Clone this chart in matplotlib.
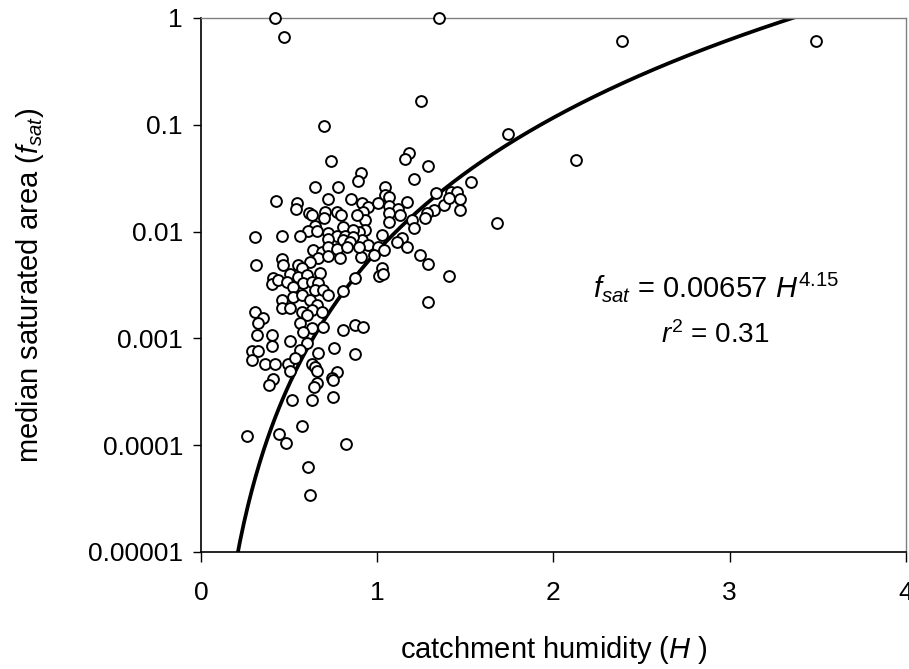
import numpy as np
import matplotlib
matplotlib.use("Agg")
import matplotlib.pyplot as plt
from matplotlib.ticker import FixedLocator, FixedFormatter, NullLocator

plt.rcParams['font.family'] = ['Liberation Sans', 'DejaVu Sans']
plt.rcParams['mathtext.fontset'] = 'custom'
plt.rcParams['mathtext.rm'] = 'Liberation Sans'
plt.rcParams['mathtext.it'] = 'Liberation Sans:italic'

# observed catchments: humidity H and median saturated area f_sat
H_obs = [0.42, 0.47, 1.35, 2.39, 3.49, 1.25, 0.70, 2.13, 1.74, 1.68, 0.74, 1.41, 1.29,
         1.18, 1.155, 1.29, 0.91, 0.89, 1.21, 1.045, 1.045, 1.064, 1.335, 1.42, 1.45,
         1.53, 1.47, 0.913, 0.95, 1.004, 1.064, 1.12, 1.169, 1.377, 1.405, 1.47, 0.922,
         1.064, 1.13, 1.32, 1.28, 1.27, 0.93, 1.064, 1.197, 0.928, 1.206, 1.027, 0.894,
         0.916, 1.14, 1.112, 0.95, 1.007, 1.169, 0.91, 0.979, 1.036, 1.244, 1.29, 1.027,
         0.646, 0.78, 0.424, 0.723, 0.85, 0.547, 0.54, 0.614, 0.632, 0.705, 0.70, 0.771,
         0.794, 0.888, 0.648, 0.61, 0.657, 0.808, 0.865, 0.307, 0.459, 0.5625, 0.723,
         0.771, 0.818, 0.865, 0.723, 0.808, 0.847, 0.638, 0.686, 0.723, 0.771, 0.828,
         0.894, 0.79, 0.666, 0.718, 0.459, 0.3125, 0.468, 0.553, 0.619,
         0.572, 0.676, 0.411, 0.506, 0.553, 0.60, 0.402, 0.439, 0.487, 0.581, 0.629,
         0.666, 0.524, 0.648, 0.695, 0.723, 0.875, 0.808, 0.524, 0.572, 0.619, 0.459,
         0.459, 0.506, 0.657, 0.629, 0.686, 0.572, 0.60, 0.307, 0.354, 0.326, 0.5625,
         0.629, 0.695, 0.581, 0.808, 0.875, 0.402, 0.316, 0.402, 0.506, 0.60, 0.288,
         0.326, 0.752, 0.5625, 0.666, 0.875, 0.288, 0.364, 0.42, 0.496, 0.534, 0.629,
         0.648, 0.657, 0.771, 0.743, 0.411, 0.506, 0.657,
         1.011, 1.03, 0.922,
         0.388, 0.644, 0.748, 0.515, 0.629, 0.748, 0.26, 0.445, 0.483, 0.572, 0.824,
         0.606, 0.619]
fsat_obs = [1.0, 0.66, 1.0, 0.61, 0.61, 0.167, 0.0975, 0.047, 0.0815, 0.012, 0.046, 0.00384, 0.00218,
            0.054, 0.048, 0.041, 0.035, 0.030, 0.031, 0.026, 0.022, 0.0212, 0.0231, 0.0236, 0.0236,
            0.029, 0.020, 0.0184, 0.0171, 0.0184, 0.0174, 0.0162, 0.0188, 0.0177, 0.0205, 0.0159, 0.0154,
            0.0148, 0.0143, 0.0159, 0.0148, 0.0133, 0.0128, 0.0124, 0.0128, 0.01035, 0.0107, 0.0093, 0.0100,
            0.0083, 0.0087, 0.0080, 0.0075, 0.0072, 0.0071, 0.0058, 0.0060, 0.0067, 0.0060, 0.0050, 0.00453,
            0.0263, 0.0263, 0.0194, 0.0201, 0.0201, 0.0187, 0.0162, 0.0150, 0.0142, 0.0154, 0.0133, 0.0154,
            0.0143, 0.0143, 0.0113, 0.0101, 0.0101, 0.011, 0.0103, 0.00885, 0.00916, 0.00916, 0.0096,
            0.0091, 0.0091, 0.00885, 0.0085, 0.0083, 0.0080, 0.0067, 0.0065, 0.0072, 0.0069, 0.0071,
            0.0072, 0.0057, 0.0057, 0.0059, 0.0055, 0.00487, 0.00487, 0.00487, 0.0052,
            0.00453, 0.00407, 0.0037, 0.00398, 0.00378, 0.00392, 0.00321, 0.00352, 0.0034, 0.00328, 0.0034,
            0.00328, 0.00305, 0.00284, 0.00284, 0.00255, 0.0037, 0.00278, 0.00246, 0.00255, 0.00229, 0.00229,
            0.00191, 0.00191, 0.00206, 0.00185, 0.00178, 0.00178, 0.00166, 0.00178, 0.00154, 0.00138, 0.00138,
            0.00124, 0.00129, 0.00116, 0.0012, 0.00133, 0.00108, 0.00108, 0.00084, 0.00095, 0.0009, 0.00076,
            0.00076, 0.00081, 0.00078, 0.00073, 0.00071, 0.00063, 0.00057, 0.00057, 0.00058, 0.00065, 0.00058,
            0.00054, 0.00049, 0.00048, 0.00043, 0.00042, 0.00049, 0.00038,
            0.00386, 0.0040, 0.00129,
            0.00037, 0.00035, 0.00041, 0.000265, 0.000265, 0.00028, 0.000122, 0.000127, 0.000105, 0.000151, 0.000102,
            0.000063, 0.000034]

# power-law fit
fit_coef = 0.00657
fit_expo = 4.15
fit_r2 = 0.31

y_ticks = [1e-5, 1e-4, 1e-3, 1e-2, 1e-1, 1]
y_tick_labels = ["0.00001", "0.0001", "0.001", "0.01", "0.1", "1"]
x_ticks = [0, 1, 2, 3, 4]

fig = plt.figure(figsize=(9.09, 6.69), dpi=100)
ax = fig.add_axes([0.2211, 0.1749, 0.7756, 0.7982])

H_fit = np.linspace(0.2, 3.5, 300)
ax.plot(H_fit, fit_coef * H_fit ** fit_expo, color="black", lw=2.7, zorder=2)
ax.plot(H_obs, fsat_obs, linestyle="none", marker="o", ms=7.8, mfc="white",
        mec="black", mew=1.4, zorder=3, clip_on=False)

ax.set_yscale("log")
ax.set_xlim(0, 4)
ax.set_ylim(1e-5, 1)
ax.yaxis.set_major_locator(FixedLocator(y_ticks))
ax.yaxis.set_major_formatter(FixedFormatter(y_tick_labels))
ax.yaxis.set_minor_locator(NullLocator())
ax.set_xticks(x_ticks)
ax.set_xticklabels([str(t) for t in x_ticks])

ax.tick_params(axis="both", direction="out", labelsize=19, color="black", width=1.0)
ax.tick_params(axis="x", length=7, pad=14)
ax.tick_params(axis="y", length=6, pad=7)

for side in ["top", "right"]:
    ax.spines[side].set_color("#808080")
    ax.spines[side].set_linewidth(1.0)
for side in ["left", "bottom"]:
    ax.spines[side].set_color("black")
    ax.spines[side].set_linewidth(1.2)

ax.set_xlabel("catchment humidity ($H$ )", fontsize=21, labelpad=21)
ax.set_ylabel("median saturated area ($f_{sat}$)", fontsize=21, labelpad=30)

ax.text(2.92, 0.00245, "$f_{sat}$ = %.5f $H^{%.2f}$" % (fit_coef, fit_expo),
        fontsize=21, ha="center", va="baseline")
ax.text(2.92, 0.00108, "$r^2$ = %.2f" % fit_r2, fontsize=20, ha="center", va="center")

fig.savefig("out.png", dpi=100)
